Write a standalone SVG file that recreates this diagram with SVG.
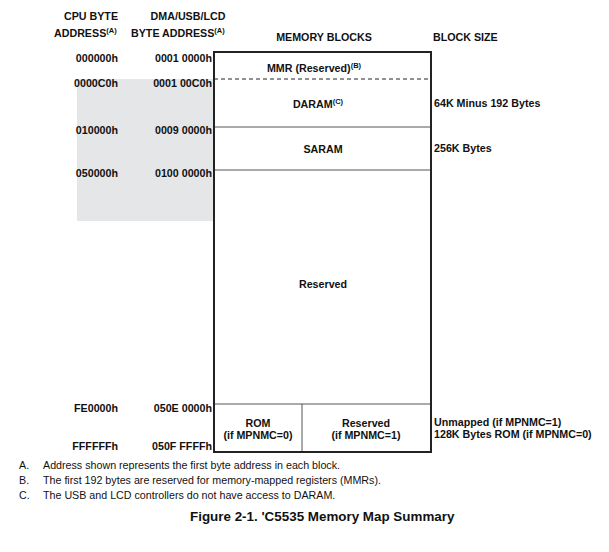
<svg xmlns="http://www.w3.org/2000/svg" width="609" height="552" viewBox="0 0 609 552">
<style>
text{font-family:"Liberation Sans",Arial,sans-serif;fill:#111;}
.b{font-weight:bold;font-size:10.7px;}
.r{text-anchor:end;}
.m{text-anchor:middle;}
.n{font-size:10.7px;}
.sup{font-size:7.5px;}
.thin{stroke:#555;stroke-width:1;fill:none;}
.thick{stroke:#222;stroke-width:2;fill:none;}
</style>
<rect width="609" height="552" fill="#fff"/>
<g id="headers">
<text class="b m" x="91" y="20">CPU BYTE</text>
<text class="b" x="54" y="37">ADDRESS<tspan class="sup" dy="-4">(A)</tspan></text>
<text class="b m" x="188" y="20">DMA/USB/LCD</text>
<text class="b" x="131" y="37">BYTE ADDRESS<tspan class="sup" dy="-4">(A)</tspan></text>
<text class="b m" x="324" y="41">MEMORY BLOCKS</text>
<text class="b" x="433" y="41">BLOCK SIZE</text>
</g>
<rect id="shade" x="77" y="79" width="137" height="142" fill="#e5e6e8"/>
<g id="addresses">
<text class="b r" x="118" y="62">000000h</text>
<text class="b r" x="212" y="62">0001 0000h</text>
<text class="b r" x="118" y="87">0000C0h</text>
<text class="b r" x="212" y="87">0001 00C0h</text>
<text class="b r" x="118" y="134">010000h</text>
<text class="b r" x="212" y="134">0009 0000h</text>
<text class="b r" x="118" y="177">050000h</text>
<text class="b r" x="212" y="177">0100 0000h</text>
<text class="b r" x="118" y="412">FE0000h</text>
<text class="b r" x="212" y="412">050E 0000h</text>
<text class="b r" x="118" y="450">FFFFFFh</text>
<text class="b r" x="212" y="450">050F FFFFh</text>
</g>
<g id="connectors">
<line x1="214" y1="79" x2="431" y2="79" stroke="#222" stroke-width="1" stroke-dasharray="4,3"/>
<line class="thin" x1="214" y1="127" x2="431" y2="127"/>
<line class="thin" x1="214" y1="170" x2="431" y2="170"/>
<line class="thin" x1="214" y1="404" x2="431" y2="404"/>
<line class="thin" x1="302" y1="404" x2="302" y2="452"/>
<rect class="thick" x="214" y="52" width="217" height="400"/>
</g>
<g id="mmr"><text class="b m" x="314" y="72">MMR (Reserved)<tspan class="sup" dy="-4">(B)</tspan></text></g>
<g id="daram"><text class="b m" x="318" y="108">DARAM<tspan class="sup" dy="-4">(C)</tspan></text>
<text class="b" x="434" y="107">64K Minus 192 Bytes</text></g>
<g id="saram"><text class="b m" x="323" y="153">SARAM</text>
<text class="b" x="434" y="152">256K Bytes</text></g>
<g id="reserved"><text class="b m" x="323" y="288">Reserved</text></g>
<g id="rom"><text class="b m" x="258" y="427">ROM</text><text class="b m" x="258" y="439">(if MPNMC=0)</text></g>
<g id="reserved2"><text class="b m" x="366" y="427">Reserved</text><text class="b m" x="366" y="439">(if MPNMC=1)</text></g>
<g id="romsize"><text class="b" x="434" y="426">Unmapped (if MPNMC=1)</text><text class="b" x="434" y="438">128K Bytes ROM (if MPNMC=0)</text></g>
<g id="notes">
<text class="n" x="19" y="469">A.</text><text class="n" x="43" y="469">Address shown represents the first byte address in each block.</text>
<text class="n" x="19" y="484">B.</text><text class="n" x="43" y="484">The first 192 bytes are reserved for memory-mapped registers (MMRs).</text>
<text class="n" x="19" y="499">C.</text><text class="n" x="43" y="499">The USB and LCD controllers do not have access to DARAM.</text>
<text x="190" y="521" font-size="13.4" font-weight="bold">Figure 2-1. 'C5535 Memory Map Summary</text>
</g>
</svg>
